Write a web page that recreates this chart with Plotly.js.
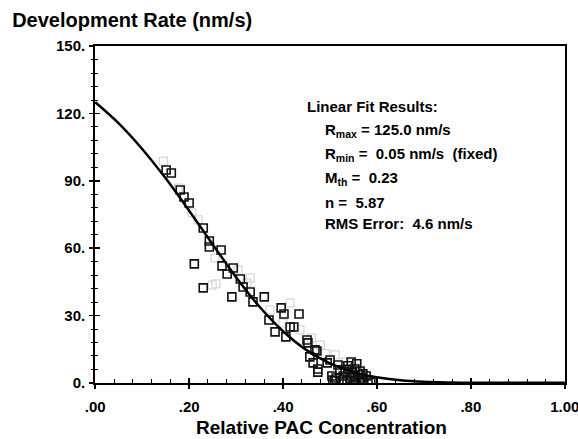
<!DOCTYPE html>
<html>
<head>
<meta charset="utf-8">
<script src="https://cdn.plot.ly/plotly-3.0.1.min.js"></script>
<style>html,body{margin:0;padding:0;background:#fff;}#chart{width:578px;height:439px;}</style>
</head>
<body>
<div id="chart"></div>
<script>
// Measured data (dark squares)
const pacX = [0.151,0.162,0.181,0.189,0.200,0.211,0.230,0.230,0.243,0.243,0.268,0.270,0.281,0.294,0.309,0.315,0.291,0.336,0.360,0.330,0.396,0.402,0.434,0.370,0.383,0.415,0.423,0.406,0.451,0.453,0.468,0.472,0.457,0.500,0.474,0.464,0.494,0.506,0.474,
  0.521,0.528,0.532,0.538,0.543,0.547,0.553,0.555,0.560,0.564,0.568,0.572,0.577,0.581,0.513,0.517,0.536,0.549,0.526,0.564,0.587,0.510,0.504,0.545,0.557,0.540,0.552,0.570];
const rate = [94.8,93.5,85.9,82.8,80.1,53.0,69.0,42.3,63.2,60.5,59.2,52.1,48.5,51.2,46.3,42.7,38.3,36.1,38.3,40.5,33.4,30.7,30.7,28.0,22.7,24.9,24.9,20.5,19.1,17.8,14.7,14.2,11.6,10.2,6.2,8.9,8.9,1.3,4.8,
  5.8,3.1,4.9,7.6,2.2,4.5,6.2,1.3,3.6,5.3,2.2,0.9,3.1,1.3,2.2,8.0,0.9,0.4,0.4,0.4,0.2,0.9,3.1,9.3,8.5,6.0,3.0,4.0];
// Second (faint) data set
const pacX2 = [0.145,0.177,0.206,0.219,0.255,0.249,0.257,0.304,0.330,0.323,0.415,0.436,0.400,0.372,0.479,0.511,0.532,0.553,0.568,0.490,0.460];
const rate2 = [98.8,86.8,75.7,72.6,55.6,43.6,44.1,50.3,46.7,44.5,35.6,23.6,26.7,32.5,16.9,12.5,9.3,6.7,4.5,13.0,20.0];
// Fitted curve
const fitX = [0.00,0.05,0.10,0.15,0.20,0.25,0.30,0.35,0.40,0.45,0.50,0.55,0.60,0.65,0.70,0.75,0.80,0.90,1.00];
const fitY = [125.0,115.6,104.2,91.1,76.7,61.7,47.1,33.9,23.0,14.6,8.7,4.8,2.5,1.2,0.5,0.2,0.1,0.05,0.05];
// Tick labels
const xTickVals = [0,0.2,0.4,0.6,0.8,1.0];
const xTickText = ['.00','.20','.40','.60','.80','1.00'];
const yTickVals = [0,30,60,90,120,150];
const yTickText = ['0.','30.','60.','90.','120.','150.'];
const fitLines = ['R<sub>max</sub> = 125.0 nm/s','R<sub>min</sub> =  0.05 nm/s  (fixed)','M<sub>th</sub> =  0.23','n =  5.87','RMS Error:  4.6 nm/s'];

const FONT = 'Liberation Sans, Arial, sans-serif';
const XR = [-0.0005, 1.0005];
const YR = [-0.05, 150.05];
const traces = [
  {x: pacX2, y: rate2, type:'scatter', mode:'markers', marker:{symbol:'square-open', size:8, color:'#cccccc', line:{width:1}}, hoverinfo:'skip'},
  {x: pacX, y: rate, type:'scatter', mode:'markers', marker:{symbol:'square-open', size:8, color:'#111', line:{width:1.6}}},
  {x: fitX, y: fitY, xaxis:'x2', yaxis:'y2', type:'scatter', mode:'lines', line:{color:'#000', width:2.5, shape:'spline'}}
];
const ann = [{xref:'paper', yref:'paper', x:0.447, y:0.819, xanchor:'left', yanchor:'middle', text:'Linear Fit Results:', showarrow:false, font:{family:FONT, size:15, color:'#000', weight:'bold'}}];
const ys = [0.748,0.677,0.608,0.537,0.472];
fitLines.forEach((t,i)=>ann.push({xref:'paper', yref:'paper', x:0.485, y:ys[i], xanchor:'left', yanchor:'middle', text:t, showarrow:false, font:{family:FONT, size:15, color:'#000', weight:'bold'}}));
ann.push({xref:'paper', yref:'paper', x:0.482, y:-0.1335, xanchor:'center', yanchor:'middle', text:'Relative PAC Concentration', showarrow:false, font:{family:FONT, size:19, color:'#000', weight:'bold'}});

const layout = {
  width:578, height:439,
  margin:{l:95, r:13, t:46, b:56},
  paper_bgcolor:'#fff', plot_bgcolor:'#fff',
  showlegend:false,
  font:{family:FONT, color:'#000'},
  title:{text:'Development Rate (nm/s)', xref:'container', yref:'container', x:0.021, xanchor:'left', y:0.955, yanchor:'middle', font:{family:FONT, size:20, weight:'bold', color:'#000'}},
  xaxis:{range:XR, tickvals:xTickVals, ticktext:xTickText, ticks:'inside', ticklen:5, tickwidth:1.5, tickcolor:'#000',
    showline:true, linewidth:1.8, linecolor:'#000', mirror:true, showgrid:false, zeroline:false,
    tickfont:{family:FONT, size:15, weight:'bold'}, ticklabelstandoff:9, ticklabeloverflow:'allow',
    minor:{dtick:0.04, tick0:0, ticks:'inside', ticklen:4, tickcolor:'#000', tickwidth:1}},
  yaxis:{range:YR, tickvals:yTickVals, ticktext:yTickText, ticks:'inside', ticklen:5, tickwidth:1.5, tickcolor:'#000',
    showline:true, linewidth:1.8, linecolor:'#000', mirror:true, showgrid:false, zeroline:false,
    tickfont:{family:FONT, size:15, weight:'bold'}, ticklabelstandoff:5, ticklabeloverflow:'allow',
    minor:{dtick:6, tick0:0, ticks:'inside', ticklen:3, tickcolor:'#000', tickwidth:1}},
  xaxis2:{range:XR, overlaying:'x', anchor:'y', side:'bottom', showticklabels:false, dtick:0.2, tick0:0, ticks:'outside', ticklen:5, tickwidth:1.5, tickcolor:'#000', showgrid:false, zeroline:false, showline:false},
  yaxis2:{range:YR, overlaying:'y', anchor:'x', side:'left', showticklabels:false, dtick:30, tick0:0, ticks:'outside', ticklen:5, tickwidth:1.5, tickcolor:'#000', showgrid:false, zeroline:false, showline:false,
    minor:{dtick:6, tick0:0, ticks:'outside', ticklen:3, tickcolor:'#000', tickwidth:1}},
  annotations: ann
};
Plotly.newPlot('chart', traces, layout, {displayModeBar:false, staticPlot:true});
</script>
</body>
</html>
